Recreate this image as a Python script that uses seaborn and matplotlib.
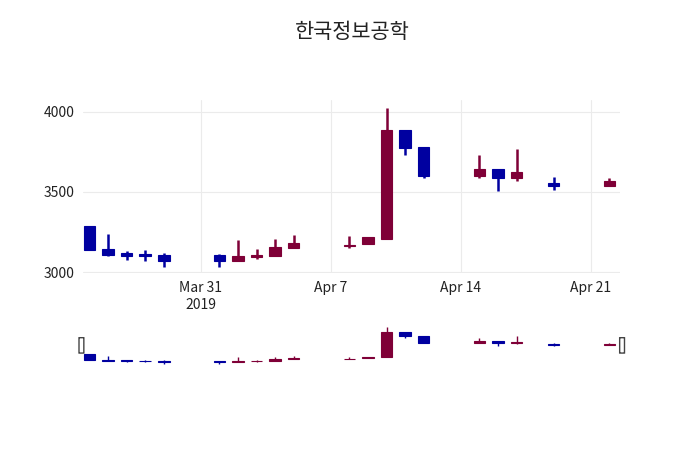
import pandas as pd
import matplotlib
matplotlib.use("Agg")
import matplotlib.pyplot as plt
import matplotlib.dates as mdates
from matplotlib.patches import FancyBboxPatch
import seaborn as sns

dates = ["2019-03-25", "2019-03-26", "2019-03-27", "2019-03-28", "2019-03-29",
         "2019-04-01", "2019-04-02", "2019-04-03", "2019-04-04", "2019-04-05",
         "2019-04-08", "2019-04-09", "2019-04-10", "2019-04-11", "2019-04-12",
         "2019-04-15", "2019-04-16", "2019-04-17", "2019-04-19", "2019-04-22"]
open_ = [3286, 3143, 3118, 3112, 3106, 3106, 3068, 3093, 3100, 3149,
         3162, 3174, 3205, 3888, 3782, 3602, 3646, 3584, 3553, 3540]
high = [3290, 3236, 3130, 3137, 3118, 3112, 3199, 3143, 3205, 3230,
        3224, 3217, 4025, 3888, 3782, 3727, 3646, 3770, 3596, 3590]
low = [3137, 3100, 3075, 3068, 3031, 3031, 3068, 3081, 3100, 3149,
       3149, 3174, 3205, 3727, 3590, 3584, 3509, 3571, 3515, 3540]
close = [3137, 3106, 3100, 3100, 3068, 3068, 3100, 3106, 3155, 3180,
         3168, 3217, 3888, 3776, 3602, 3646, 3590, 3627, 3540, 3571]

df = pd.DataFrame({"date": pd.to_datetime(dates), "open": open_, "high": high,
                   "low": low, "close": close})
df["color"] = ["#7f0037" if c > o else "#0000a0" for o, c in zip(df.open, df.close)]

sns.set_style("white")
plt.rcParams["font.family"] = ["Noto Sans CJK KR", "DejaVu Sans"]

fig = plt.figure(figsize=(7, 4.5), dpi=100)
ax = fig.add_axes([0.119, 0.393, 0.767, 0.384])
sl = fig.add_axes([0.119, 0.19, 0.767, 0.085])

xmin = pd.Timestamp("2019-03-24 16:00")
xmax = pd.Timestamp("2019-04-22 14:00")


def candles(a, lw):
    bottoms = df[["open", "close"]].min(axis=1)
    heights = (df.close - df.open).abs().clip(lower=4)
    a.vlines(df.date, df.low, df.high, colors=df.color, lw=lw, zorder=2)
    a.bar(df.date, heights, bottom=bottoms, width=0.62, color=df.color,
          edgecolor=df.color, lw=0.8, zorder=3)


candles(ax, 1.8)
ax.set_xlim(xmin, xmax)
ax.set_ylim(2995, 4070)
ax.set_yticks([3000, 3500, 4000])
ax.grid(True, color="#ebebeb", lw=0.8)
for s in ax.spines.values():
    s.set_visible(False)
ticks = pd.to_datetime(["2019-03-31", "2019-04-07", "2019-04-14", "2019-04-21"])
ax.set_xticks(ticks)
ax.set_xticklabels(["Mar 31\n2019", "Apr 7", "Apr 14", "Apr 21"])
ax.tick_params(axis="both", labelsize=10, length=0, colors="#222222", pad=6)
ax.set_title("한국정보공학", fontsize=15, pad=45, color="#222222")

candles(sl, 1.0)
sl.set_xlim(xmin, xmax)
sl.set_ylim(3010, 4040)
sl.axis("off")
for xp in [-0.007, 1.0]:
    sl.add_patch(FancyBboxPatch((xp, 0.3), 0.007, 0.4, transform=sl.transAxes,
                                boxstyle="round,pad=0.001", fc="white",
                                ec="#444444", lw=1, clip_on=False))

fig.savefig("out.png", dpi=100)
